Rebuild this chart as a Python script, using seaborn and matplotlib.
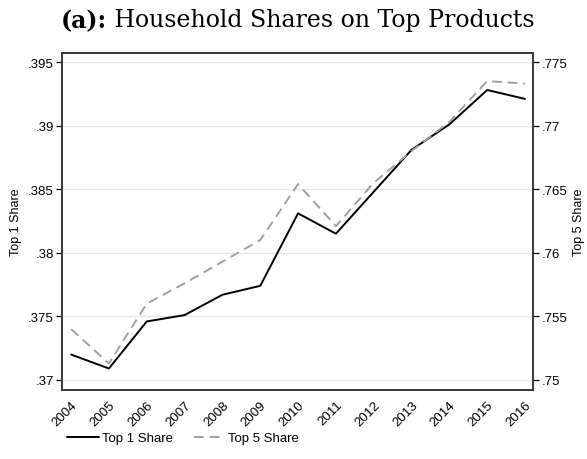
import matplotlib
matplotlib.use("Agg")
import matplotlib.pyplot as plt
import matplotlib.ticker as mticker
import pandas as pd
import seaborn as sns

years = [2004, 2005, 2006, 2007, 2008, 2009, 2010, 2011, 2012, 2013, 2014, 2015, 2016]
top1_share = [.3720, .3709, .3746, .3751, .3767, .3774, .3831, .3815, .3848, .3881, .3901, .3928, .3921]
top5_share = [.7540, .7513, .7560, .7576, .7593, .7610, .7654, .7621, .7655, .7680, .7703, .7735, .7733]

df = pd.DataFrame({"year": years, "top1": top1_share, "top5": top5_share})

sns.set_style("white")
plt.rcParams["font.family"] = ["Liberation Sans", "DejaVu Sans"]
plt.rcParams["text.color"] = "black"
plt.rcParams["axes.labelcolor"] = "black"

fig = plt.figure(figsize=(5.87, 4.60), dpi=100)
ax = fig.add_axes([62 / 587, 1 - 391 / 460, 471 / 587, 337 / 460])
ax2 = ax.twinx()

sns.lineplot(data=df, x="year", y="top1", ax=ax, color="black", lw=1.4, label="Top 1 Share", legend=False)
sns.lineplot(data=df, x="year", y="top5", ax=ax2, color="#a0a0a0", lw=1.4, dashes=False,
             linestyle=(0, (5, 3)), label="Top 5 Share", legend=False)

ax.set_xlim(2003.76, 2016.21)
ax.set_ylim(.36921, .39571)
ax2.set_ylim(.74921, .77571)

fmt = mticker.FuncFormatter(lambda v, p: ("%g" % round(v, 4)).lstrip("0"))
ax.set_yticks([.37, .375, .38, .385, .39, .395])
ax2.set_yticks([.75, .755, .76, .765, .77, .775])
ax.yaxis.set_major_formatter(fmt)
ax2.yaxis.set_major_formatter(fmt)
ax.set_xticks(years)
ax.set_xticklabels([str(y) for y in years], rotation=45, ha="right", rotation_mode="anchor")

ax.grid(axis="y", color="#e6e6e6", lw=0.9)
ax.set_axisbelow(True)

for a in (ax, ax2):
    a.tick_params(axis="both", which="major", direction="out", length=4, width=0.9,
                  labelsize=9.5, colors="black", pad=2)
    for s in a.spines.values():
        s.set_color("#333333")
        s.set_linewidth(1.1)

ax.set_xlabel("")
ax.set_ylabel("Top 1 Share", fontsize=9)
ax2.set_ylabel("Top 5 Share", fontsize=9)

h1, l1 = ax.get_legend_handles_labels()
h2, l2 = ax2.get_legend_handles_labels()
fig.legend(h1 + h2, l1 + l2, loc="center", bbox_to_anchor=(183 / 587, 1 - 439 / 460),
           ncol=2, frameon=False, fontsize=9.5, handlelength=2.4, handletextpad=0.2, columnspacing=1.6)

# title: bold "(a):" followed by regular text, centred over the axes
serif = ["DejaVu Serif"]
ty = 1 - 21 / 460
renderer = fig.canvas.get_renderer()
t1 = fig.text(0, ty, "(a):", ha="left", va="center", fontsize=17, weight="bold", family=serif)
t2 = fig.text(0, ty, " Household Shares on Top Products", ha="left", va="center", fontsize=17, family=serif)
w1 = t1.get_window_extent(renderer).width
w2 = t2.get_window_extent(renderer).width
x0 = 297.5 - (w1 + w2) / 2
t1.set_x(x0 / 587)
t2.set_x((x0 + w1) / 587)

fig.savefig("out.png", dpi=100)
